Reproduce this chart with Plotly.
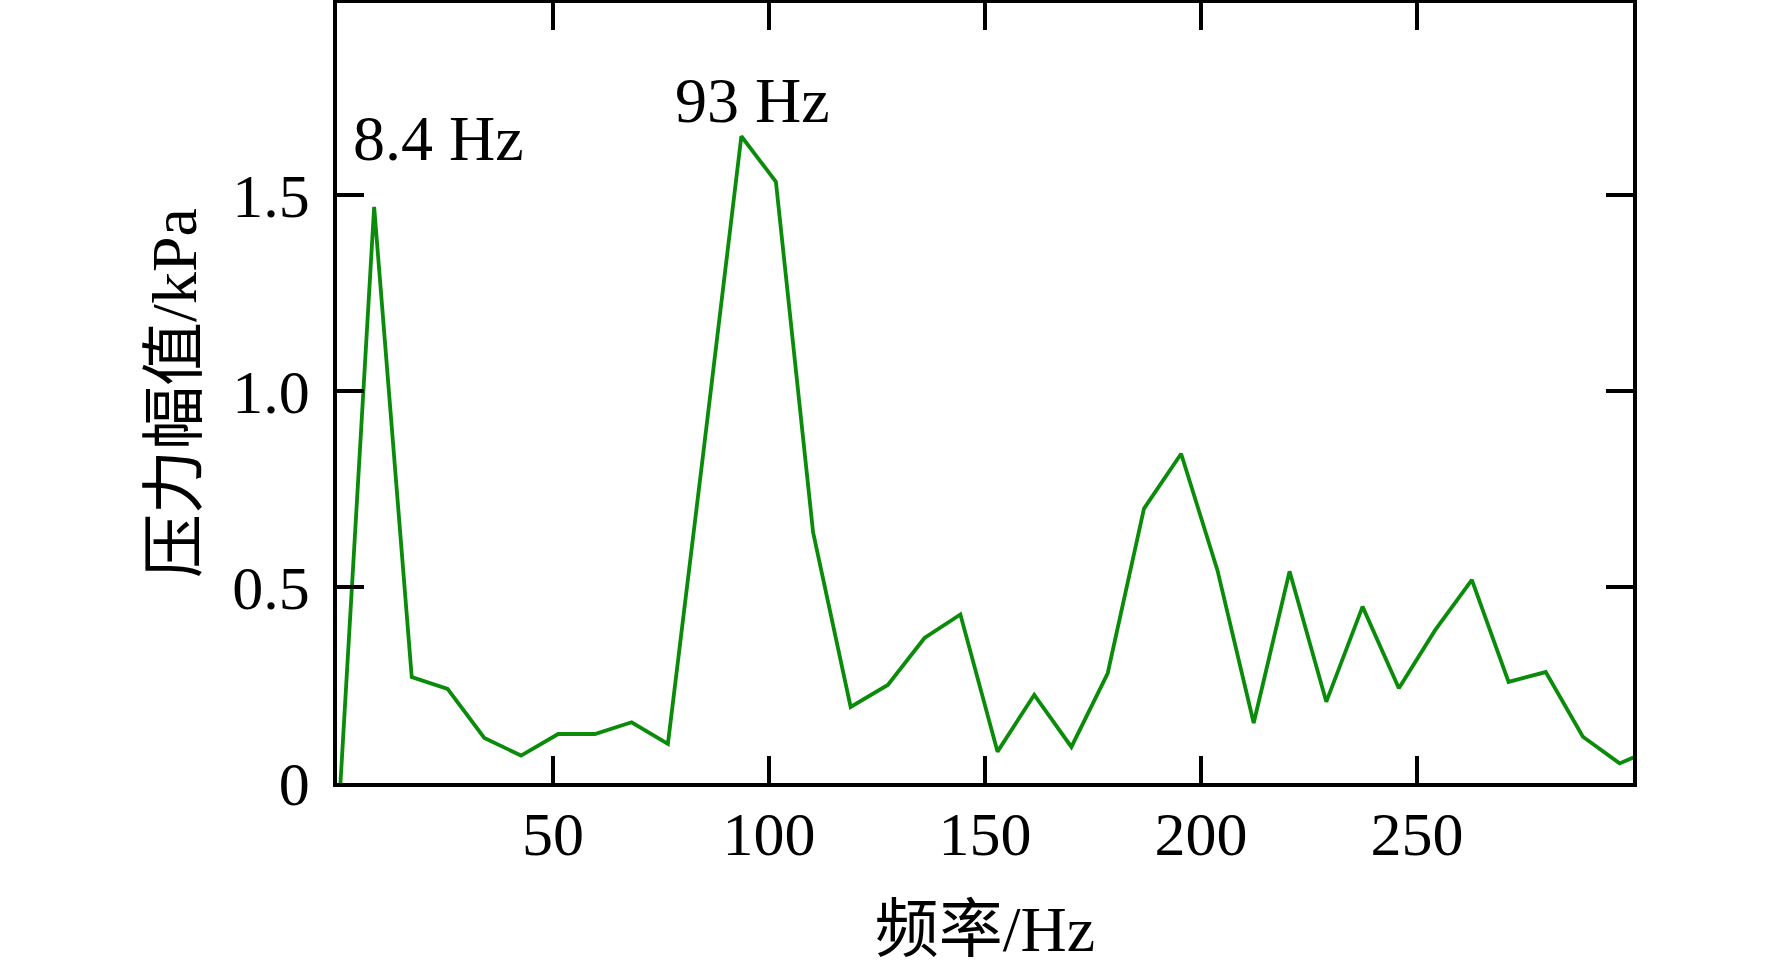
import plotly.graph_objects as go

# Frequency (Hz) and pressure amplitude (kPa)
freq = [0.8, 8.6, 17.3, 25.6, 34.1, 42.6, 51.2, 59.7, 68.2, 76.6, 85.1, 93.6, 101.6,
        110.2, 118.9, 127.5, 136.0, 144.3, 152.9, 161.4, 170.0, 178.4, 186.8, 195.4,
        203.8, 212.2, 220.5, 229.0, 237.4, 245.8, 254.2, 262.7, 271.2, 279.8, 288.4,
        296.9, 305.3]
amp = [0.00, 1.47, 0.27, 0.24, 0.115, 0.07, 0.125, 0.125, 0.155, 0.10, 0.87, 1.65, 1.534,
       0.64, 0.194, 0.25, 0.37, 0.43, 0.08, 0.225, 0.092, 0.28, 0.70, 0.84,
       0.543, 0.153, 0.54, 0.207, 0.45, 0.242, 0.39, 0.518, 0.258, 0.283, 0.118,
       0.05, 0.09]

x_ticks = [50, 100, 150, 200, 250]
y_ticks = [0, 0.5, 1.0, 1.5]
y_tick_text = ["0", "0.5", "1.0", "1.5"]

peak_labels = ["8.4 Hz", "93 Hz"]
peak_label_x = [23.6, 96.1]
peak_label_y = [1.645, 1.742]

FONT = "Liberation Serif, Times New Roman, Noto Sans CJK SC, serif"

fig = go.Figure()
fig.add_trace(go.Scatter(x=freq, y=amp, mode="lines",
                         line=dict(color="#0a8c0a", width=3.8),
                         showlegend=False))

for t, px, py in zip(peak_labels, peak_label_x, peak_label_y):
    fig.add_annotation(x=px, y=py, xref="x", yref="y", text=t, showarrow=False,
                       font=dict(family=FONT, size=64, color="black"),
                       xanchor="center", yanchor="middle")

axis_common = dict(showline=True, linecolor="black", linewidth=3.5, mirror="ticks",
                   ticks="inside", ticklen=27, tickwidth=3.5, tickcolor="black",
                   showgrid=False, zeroline=False, automargin=False,
                   tickfont=dict(family=FONT, size=62, color="black"))

fig.update_xaxes(range=[0, 300], tickvals=x_ticks, ticklabelstandoff=-6,
                 title=dict(text="频率/Hz", font=dict(family=FONT, size=64, color="black"),
                            standoff=41),
                 **axis_common)
fig.update_yaxes(range=[0, 1.99], tickvals=y_ticks, ticktext=y_tick_text,
                 ticklabelstandoff=11,
                 title=dict(text="压力幅值/kPa", font=dict(family=FONT, size=64, color="black"),
                            standoff=16),
                 **axis_common)

fig.update_layout(width=1772, height=965,
                  margin=dict(l=337, r=139, t=3, b=182),
                  paper_bgcolor="white", plot_bgcolor="white")

fig.write_html("out.html", config={"displayModeBar": False},
               post_script="document.body.style.margin='0';document.body.style.overflow='hidden';")
